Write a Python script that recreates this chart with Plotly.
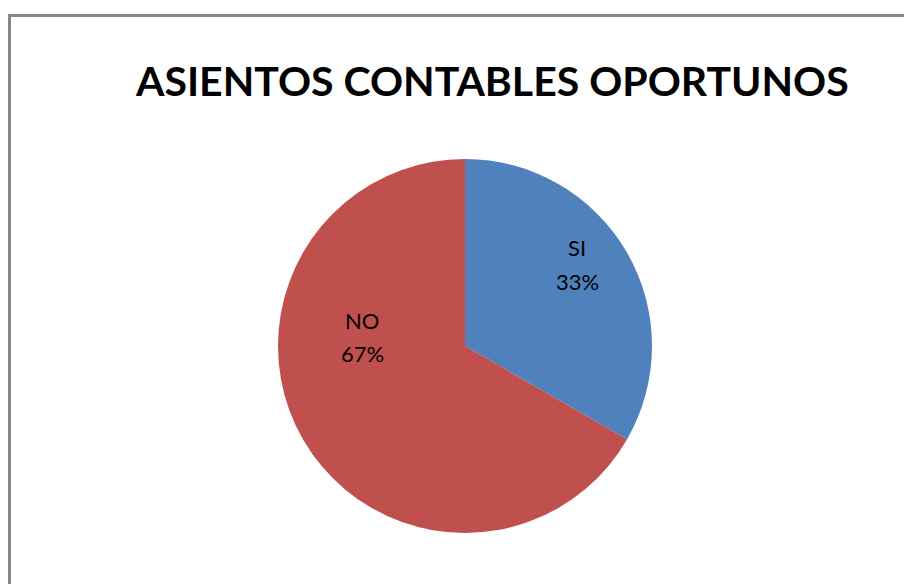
import plotly.graph_objects as go

labels = ["SI", "NO"]
values = [33.3, 66.7]
colors = ["#4F81BD", "#C0504D"]
title_text = "ASIENTOS CONTABLES OPORTUNOS"

W, H = 904, 584
cx, cy, r = 465, 346, 187
# label anchor positions in pixels (label line, percent line)
label_pos = [(577, 248, 281), (362, 320, 353)]

fig = go.Figure(go.Pie(
    labels=labels, values=values, sort=False, direction="clockwise", rotation=0,
    marker=dict(colors=colors, line=dict(width=0)),
    textinfo="none",
    showlegend=False, hoverinfo="skip",
    domain=dict(x=[(cx - r) / W, (cx + r) / W], y=[(H - cy - r) / H, (H - cy + r) / H]),
))

total = sum(values)
annotations = [dict(text="<b>" + title_text + "</b>", x=492 / W, y=1 - 80 / H,
                    xref="paper", yref="paper", showarrow=False,
                    xanchor="center", yanchor="middle",
                    font=dict(family="Lato", size=41, color="black"))]
for lab, val, (px, py1, py2) in zip(labels, values, label_pos):
    for txt, py in ((lab, py1), (f"{round(100 * val / total)}%", py2)):
        annotations.append(dict(text=txt, x=px / W, y=1 - py / H, xref="paper", yref="paper",
                                showarrow=False, xanchor="center", yanchor="middle",
                                font=dict(family="Lato", size=22, color="black")))

fig.update_layout(
    width=W, height=H, margin=dict(l=0, r=0, t=0, b=0),
    paper_bgcolor="white", plot_bgcolor="white",
    annotations=annotations,
    shapes=[
        dict(type="line", xref="paper", yref="paper", x0=9.5 / W, x1=1.01, y0=1 - 15.5 / H, y1=1 - 15.5 / H,
             line=dict(color="#878787", width=3)),
        dict(type="line", xref="paper", yref="paper", x0=9.5 / W, x1=9.5 / W, y0=1 - 14 / H, y1=-0.01,
             line=dict(color="#878787", width=3)),
    ],
)

fig.write_html("out.html")
